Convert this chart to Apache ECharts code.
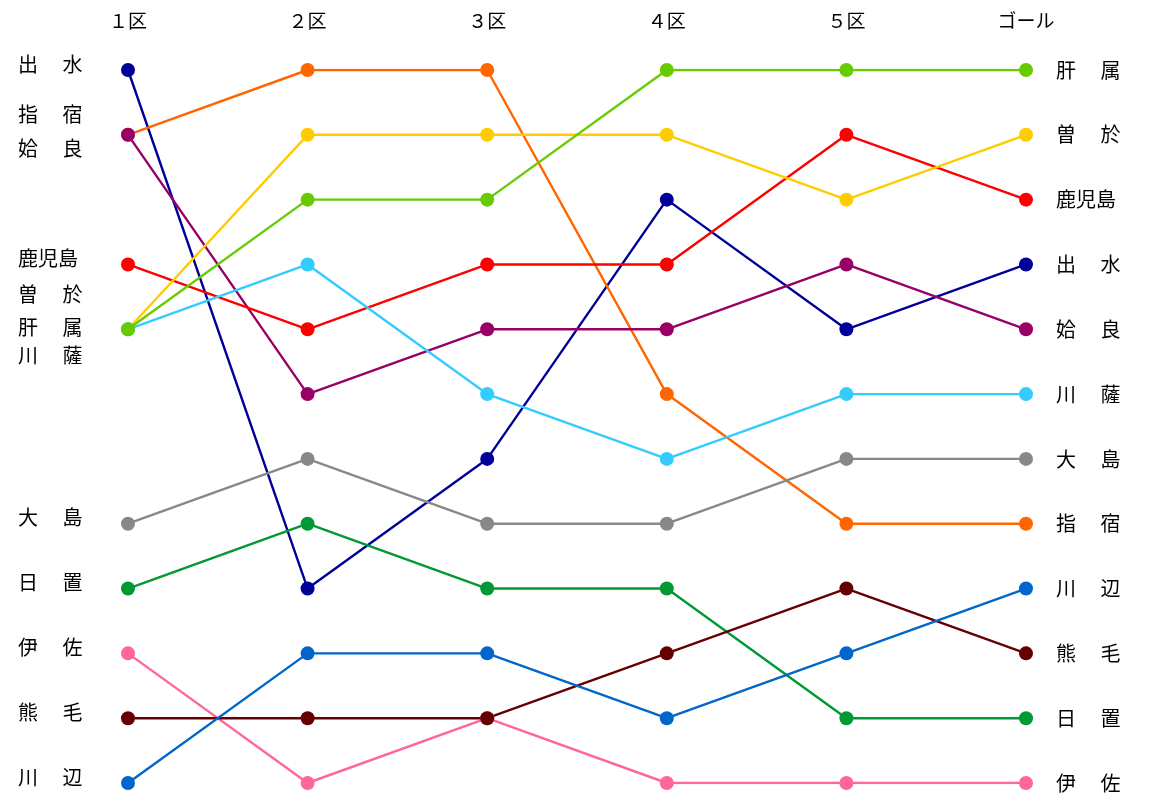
<!DOCTYPE html>
<html><head><meta charset="utf-8">
<script src="https://cdn.jsdelivr.net/npm/echarts@6/dist/echarts.min.js"></script>
<style>html,body{margin:0;background:#fff}#c{width:1160px;height:806px}</style></head>
<body><div id="c"></div>
<script>
const stages = ['１区','２区','３区','４区','５区','ゴール'];
const teams = ['出水','指宿','姶良','鹿児島','曽於','肝属','川薩','大島','日置','伊佐','熊毛','川辺'];
const colors = ['#000099','#ff6600','#990066','#ff0000','#ffcc00','#66cc00','#33ccff','#888888','#009933','#ff6699','#660000','#0066cc'];
const ranks = [
 [1,9,7,3,5,4],
 [2,1,1,6,8,8],
 [2,6,5,5,4,5],
 [4,5,4,4,2,3],
 [5,2,2,2,3,2],
 [5,3,3,1,1,1],
 [5,4,6,7,6,6],
 [8,7,8,8,7,7],
 [9,8,9,9,11,11],
 [10,12,11,12,12,12],
 [11,11,11,10,9,10],
 [12,10,10,11,10,9]
];
const leftLabelPos = [1,1.77,2.3,4,4.55,5.06,5.5,8,9,10,11,12];
const zOrder = [2,2,2,2,2,9,2,2,2,2,2,2];
const fmt = n => n.length===2 ? n[0]+'\u3000 '+n[1] : n;
const goalOrder = teams.map((t,i)=>({t,r:ranks[i][5]})).sort((a,b)=>a.r-b.r).map(o=>fmt(o.t));
const chart = echarts.init(document.getElementById('c'));
const font = '"Noto Sans CJK JP", sans-serif';
chart.setOption({
  animation:false,
  grid:{left:128,right:134,top:70,bottom:23},
  xAxis:{type:'category',data:stages,boundaryGap:false,position:'top',
    axisLine:{show:false},axisTick:{show:false},splitLine:{show:false},
    axisLabel:{color:'#000',fontSize:19,fontFamily:font,margin:40}},
  yAxis:[
   {type:'value',min:1,max:12,inverse:true,show:false},
   {type:'category',data:goalOrder,inverse:true,position:'right',boundaryGap:false,
    axisLine:{show:false},axisTick:{show:false},splitLine:{show:false},
    axisLabel:{color:'#000',fontSize:20,fontFamily:font,margin:30,align:'left'}}
  ],
  series: teams.map((t,i)=>({type:'line',name:t,data:ranks[i],yAxisIndex:0,z:zOrder[i],
    symbol:'circle',symbolSize:14,lineStyle:{width:2.4,color:colors[i]},itemStyle:{color:colors[i]}}))
});
chart.setOption({graphic: teams.map((t,i)=>({type:'text',left:18,
  top: chart.convertToPixel({yAxisIndex:0}, leftLabelPos[i]) - 16,
  style:{text:fmt(t),fontSize:20,fontFamily:font,fill:'#000'}}))});
</script></body></html>
